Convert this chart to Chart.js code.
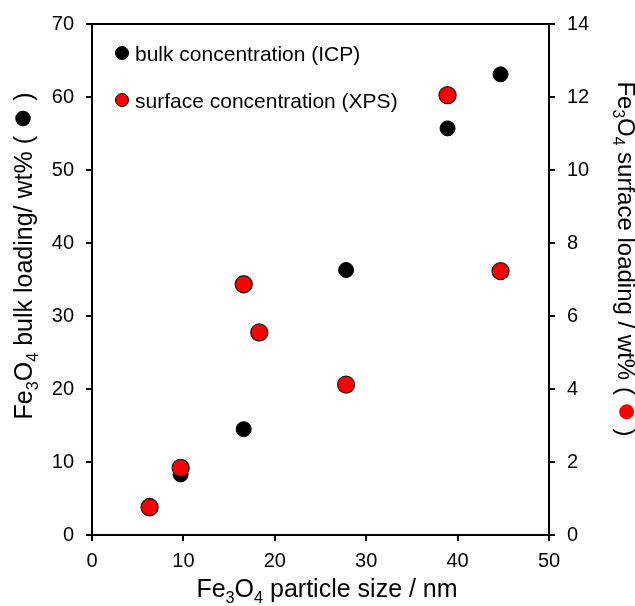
<!DOCTYPE html>
<html>
<head>
<meta charset="utf-8">
<script src="https://cdn.jsdelivr.net/npm/chart.js@4.4.0/dist/chart.umd.min.js"></script>
<style>
  html, body { margin: 0; padding: 0; background: #fff; }
  #wrap { width: 635px; height: 606px; }
</style>
</head>
<body>
<div id="wrap"><canvas id="myChart" width="635" height="606"></canvas></div>
<script>
// particle size (nm)
const bulkSize = [6.3, 9.7, 16.6, 27.8, 38.9, 44.7];
const bulkLoading = [4.0, 8.3, 14.5, 36.3, 55.7, 63.1];
const surfSize = [6.3, 9.7, 16.6, 18.3, 27.8, 38.9, 44.7];
const surfLoading = [0.76, 1.84, 6.87, 5.55, 4.12, 12.05, 7.23];

const xTicks = [0, 10, 20, 30, 40, 50];
const leftTicks = [0, 10, 20, 30, 40, 50, 60, 70];
const rightTicks = [0, 2, 4, 6, 8, 10, 12, 14];

const FONT = '"Liberation Sans", Arial, sans-serif';

// text with subscripts: parts = [[text, isSub], ...]
function richWidth(ctx, parts, size) {
    let w = 0;
    parts.forEach(p => {
        ctx.font = (p[1] ? size * 0.65 : size) + 'px ' + FONT;
        w += ctx.measureText(p[0]).width;
    });
    return w;
}
function drawRich(ctx, parts, x, y, size) {
    let cx = x;
    parts.forEach(p => {
        ctx.font = (p[1] ? size * 0.65 : size) + 'px ' + FONT;
        ctx.fillText(p[0], cx, p[1] ? y + size * 0.22 : y);
        cx += ctx.measureText(p[0]).width;
    });
    return cx;
}

// rotated title ending in "( dot )"
function sideTitle(ctx, parts, size, cx, cy, angle, dotColor) {
    const dotW = size * 0.85;
    const close = [[' )', 0]];
    const w = richWidth(ctx, parts, size) + dotW + richWidth(ctx, close, size);
    ctx.save();
    ctx.translate(cx, cy);
    ctx.rotate(angle);
    ctx.fillStyle = '#000';
    const ex = drawRich(ctx, parts, -w / 2, 0, size);
    ctx.beginPath();
    ctx.arc(ex + dotW / 2, -size * 0.36, size * 0.31, 0, Math.PI * 2);
    ctx.fillStyle = dotColor;
    ctx.fill();
    ctx.fillStyle = '#000';
    drawRich(ctx, close, ex + dotW, 0, size);
    ctx.restore();
}

const decor = {
    id: 'decor',
    afterDraw(chart) {
        const ctx = chart.ctx;
        const a = chart.chartArea;
        ctx.save();
        // top frame line
        ctx.strokeStyle = '#000';
        ctx.lineWidth = 2;
        ctx.beginPath();
        ctx.moveTo(a.left - 1, a.top);
        ctx.lineTo(a.right + 1, a.top);
        ctx.stroke();

        ctx.fillStyle = '#000';
        ctx.textBaseline = 'alphabetic';

        // x title
        const xt = [['Fe', 0], ['3', 1], ['O', 0], ['4', 1], [' particle size / nm', 0]];
        const w = richWidth(ctx, xt, 25);
        drawRich(ctx, xt, 327 - w / 2, 597, 25);

        sideTitle(ctx, [['Fe', 0], ['3', 1], ['O', 0], ['4', 1], [' bulk loading/ wt% ( ', 0]],
            25, 32, 256, -Math.PI / 2, '#000');
        sideTitle(ctx, [['Fe', 0], ['3', 1], ['O', 0], ['4', 1], [' surface loading / wt% ( ', 0]],
            24, 618, 259, Math.PI / 2, '#ff0000');

        // legend
        const items = [
            { label: 'bulk concentration (ICP)', fill: '#000', y: 53 },
            { label: 'surface concentration (XPS)', fill: '#ff0000', y: 100 }
        ];
        items.forEach(it => {
            ctx.beginPath();
            ctx.arc(a.left + 30, it.y, 6.5, 0, Math.PI * 2);
            ctx.fillStyle = it.fill;
            ctx.fill();
            ctx.lineWidth = 1;
            ctx.strokeStyle = '#000';
            ctx.stroke();
            ctx.fillStyle = '#000';
            ctx.font = '21px ' + FONT;
            ctx.fillText(it.label, a.left + 43, it.y + 7.5);
        });
        ctx.restore();
    }
};

const ctx = document.getElementById('myChart').getContext('2d');
const myChart = new Chart(ctx, {
    type: 'scatter',
    data: {
        datasets: [{
            label: 'surface concentration (XPS)',
            data: surfSize.map((x, i) => ({ x: x, y: surfLoading[i] })),
            yAxisID: 'y1',
            backgroundColor: '#ff0000',
            borderColor: '#1a1a1a',
            borderWidth: 1.3,
            pointRadius: 8.5
        }, {
            label: 'bulk concentration (ICP)',
            data: bulkSize.map((x, i) => ({ x: x, y: bulkLoading[i] })),
            yAxisID: 'y',
            backgroundColor: '#000',
            borderColor: '#000',
            borderWidth: 1,
            pointRadius: 7.5
        }]
    },
    options: {
        responsive: false,
        animation: false,
        layout: { padding: { top: 24, left: 0, right: 0, bottom: 0 } },
        plugins: {
            legend: { display: false },
            tooltip: { enabled: false }
        },
        scales: {
            x: {
                type: 'linear',
                min: 0, max: 50,
                afterBuildTicks(s) { s.ticks = xTicks.map(v => ({ value: v })); },
                afterFit(s) { s.height = 71; },
                grid: { drawOnChartArea: false, color: '#000', lineWidth: 2, tickLength: 6 },
                border: { color: '#000', width: 2 },
                ticks: { color: '#000', padding: 8, maxRotation: 0, font: { family: FONT, size: 20 } }
            },
            y: {
                type: 'linear',
                position: 'left',
                min: 0, max: 70,
                afterBuildTicks(s) { s.ticks = leftTicks.map(v => ({ value: v })); },
                afterFit(s) { s.width = 92; },
                grid: { drawOnChartArea: false, color: '#000', lineWidth: 2, tickLength: 6 },
                border: { color: '#000', width: 2 },
                ticks: { color: '#000', padding: 12, font: { family: FONT, size: 20 } }
            },
            y1: {
                type: 'linear',
                position: 'right',
                min: 0, max: 14,
                afterBuildTicks(s) { s.ticks = rightTicks.map(v => ({ value: v })); },
                afterFit(s) { s.width = 86; },
                grid: { drawOnChartArea: false, color: '#000', lineWidth: 2, tickLength: 6 },
                border: { color: '#000', width: 2 },
                ticks: { color: '#000', padding: 12, font: { family: FONT, size: 20 } }
            }
        }
    },
    plugins: [decor]
});
</script>
</body>
</html>
